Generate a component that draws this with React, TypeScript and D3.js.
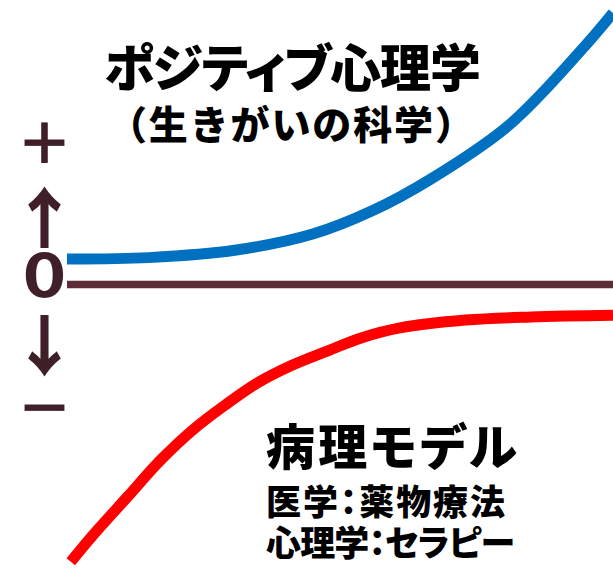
import React from "react";
import * as d3 from "d3";

const W = 613;
const H = 569;

// Positive psychology curve (x: 0-100, y: -100..100, 0 = baseline)
const blueX = [0, 15, 31, 45, 56, 66.5, 81, 95, 100];
const blueY = [9.1, 9.6, 12.3, 18, 26.4, 37.5, 57, 85.5, 97];

// Pathology model curve
const redX = [0.7, 5, 11, 17, 23, 29, 35, 41, 48, 54, 61, 73, 85, 100];
const redY = [-99, -89, -76, -63, -52, -43, -35, -29, -23.5, -19, -15.5, -12.7, -11.6, -11];

const axisSymbols = ["＋", "↑", "0", "↓", "－"];
const titleTop = "ポジティブ心理学";
const subTop = "（生きがいの科学）";
const titleBottom = "病理モデル";
const subBottom1 = "医学：薬物療法";
const subBottom2 = "心理学：セラピー";

const FONT = "'Noto Sans CJK JP', 'Noto Sans CJK SC', sans-serif";

export default function App() {
  const x = d3.scaleLinear().domain([0, 100]).range([67, 613]);
  const y = d3.scaleLinear().domain([-100, 100]).range([564.5, 4.5]);

  const line = d3
    .line<[number, number]>()
    .x((d) => x(d[0]))
    .y((d) => y(d[1]))
    .curve(d3.curveCatmullRom.alpha(0.5));

  const blue = blueX.map((v, i) => [v, blueY[i]] as [number, number]);
  const red = redX.map((v, i) => [v, redY[i]] as [number, number]);

  const symColor = "#3f1f28";
  const symProps = [
    { size: 55, base: 162.5, sx: 1, stroke: 0.8 },
    { size: 64, base: 241.5, sx: 1, stroke: 1.6 },
    { size: 61, base: 297.5, sx: 1.22, stroke: 0 },
    { size: 64, base: 368.5, sx: 1, stroke: 1.6 },
    { size: 55, base: 427.5, sx: 1, stroke: 0.8 },
  ];

  return (
    <svg
      width={W}
      height={H}
      style={{ position: "absolute", left: 0, top: 0, background: "#fff" }}
    >
      <rect x={0} y={0} width={W} height={H} fill="#fff" />
      {/* baseline */}
      <line
        x1={x(0)}
        x2={x(100)}
        y1={y(0)}
        y2={y(0)}
        stroke="#5e2c37"
        strokeWidth={7.5}
      />
      <path d={line(blue) || ""} fill="none" stroke="#0070c0" strokeWidth={11} />
      <path d={line(red) || ""} fill="none" stroke="#ff0000" strokeWidth={11} />

      {axisSymbols.map((s, i) => (
        <text
          key={i}
          x={0}
          y={symProps[i].base}
          transform={`translate(44.5,0) scale(${symProps[i].sx},1)`}
          textAnchor="middle"
          fontFamily={FONT}
          fontWeight={700}
          fontSize={symProps[i].size}
          fill={symColor}
          stroke={symProps[i].stroke ? symColor : "none"}
          strokeWidth={symProps[i].stroke}
        >
          {s}
        </text>
      ))}

      <g fontFamily={FONT} fontWeight={900} fill="#000" style={{ fontFeatureSettings: '"palt"' }}>
        <text x={104} y={86.5} fontSize={51} textLength={377} lengthAdjust="spacing">
          {titleTop}
        </text>
        <text x={108} y={139} fontSize={39} textLength={366} lengthAdjust="spacing" style={{ fontFeatureSettings: "normal" }}>
          {subTop}
        </text>
        <text x={266} y={465} fontSize={49} textLength={251} lengthAdjust="spacing">
          {titleBottom}
        </text>
        <text x={266} y={514.5} fontSize={35} textLength={239} lengthAdjust="spacing">
          {subBottom1}
        </text>
        <text x={266} y={555.5} fontSize={35} textLength={249} lengthAdjust="spacing">
          {subBottom2}
        </text>
      </g>
    </svg>
  );
}
